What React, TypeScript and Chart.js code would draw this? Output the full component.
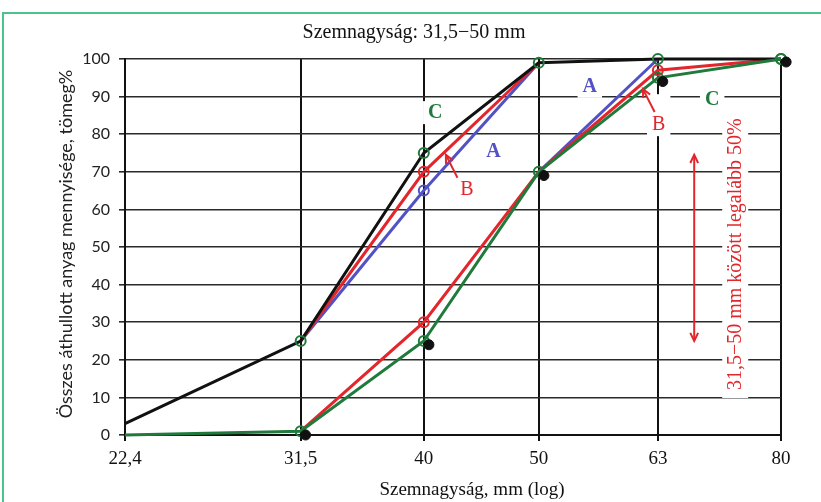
import { useEffect, useRef } from "react";
import { Chart, registerables } from "chart.js";

Chart.register(...registerables);

// ---- data ----
const xTickValues = [22.4, 31.5, 40, 50, 63, 80];
const yTickValues = [0, 10, 20, 30, 40, 50, 60, 70, 80, 90, 100];

const upperCSizes = [22.4, 31.5, 40, 50, 63, 80];
const upperCValues = [3, 25, 75, 99, 100, 100];

const upperBSizes = [31.5, 40, 50];
const upperBValues = [25, 70, 99];

const upperASizes = [31.5, 40, 50];
const upperAValues = [25, 65, 99];

const lowerCSizes = [22.4, 31.5, 40, 50, 63, 80];
const lowerCValues = [0, 1, 25, 70, 95, 100];

const lowerBSizes = [31.5, 40, 50, 63, 80];
const lowerBValues = [1, 30, 70, 97, 100];

const lowerASizes = [50, 63];
const lowerAValues = [70, 100];

const dotSizes = [31.8, 40.4, 50.5, 63.6, 80.8];
const dotValues = [0, 24, 69, 94, 99.2];

const TITLE = "Szemnagyság: 31,5−50 mm";
const X_TITLE = "Szemnagyság, mm (log)";
const Y_TITLE = "Összes áthullott anyag mennyisége, tömeg%";
const RANGE_NOTE = "31,5−50 mm között legalább 50%";

const GREEN = "#1f7a3c";
const RED = "#e3262c";
const BLUE = "#5252c4";
const BLACK = "#111111";

const pts = (xs: number[], ys: number[]) => xs.map((x, i) => ({ x, y: ys[i] }));

// annotation labels (data coordinates)
const labels = [
  { text: "C", x: 40.9, y: 85.6, color: GREEN, bold: true, padTop: 3 },
  { text: "A", x: 45.8, y: 75.3, color: BLUE, bold: true, padTop: 3 },
  { text: "B", x: 43.5, y: 65.2, color: RED, bold: false, padTop: 3 },
  { text: "A", x: 55.2, y: 92.6, color: BLUE, bold: true, padTop: 3 },
  { text: "B", x: 63.1, y: 82.4, color: RED, bold: false, padTop: 22 },
  { text: "C", x: 70, y: 89.1, color: GREEN, bold: true, padTop: 3 },
];

const arrows = [
  { x1: 42.7, y1: 68.4, x2: 41.75, y2: 74.5, both: false },
  { x1: 62.6, y1: 85.9, x2: 61.2, y2: 92, both: false },
  { x1: 67.6, y1: 25, x2: 67.6, y2: 74.5, both: true },
];

const noteAt = { x: 73.2, y: 48.1 };

function head(ctx: CanvasRenderingContext2D, x1: number, y1: number, x2: number, y2: number, size: number) {
  const a = Math.atan2(y2 - y1, x2 - x1);
  ctx.beginPath();
  ctx.moveTo(x2 - size * Math.cos(a - 0.45), y2 - size * Math.sin(a - 0.45));
  ctx.lineTo(x2, y2);
  ctx.lineTo(x2 - size * Math.cos(a + 0.45), y2 - size * Math.sin(a + 0.45));
  ctx.stroke();
}

const annotPlugin = {
  id: "annots",
  beforeDatasetsDraw(chart: any) {
    const { ctx, scales } = chart;
    const xs = scales.x, ys = scales.y;
    ctx.save();
    ctx.fillStyle = "#ffffff";
    for (const l of labels) {
      ctx.font = `${l.bold ? "bold " : ""}20px "Liberation Serif"`;
      const w = ctx.measureText(l.text).width;
      const px = xs.getPixelForValue(l.x), py = ys.getPixelForValue(l.y);
      ctx.fillRect(px - w / 2 - 5, py - 9 - l.padTop, w + 10, 20 + l.padTop);
    }
    ctx.font = `20px "Liberation Serif"`;
    const tw = ctx.measureText(RANGE_NOTE).width;
    const nx = xs.getPixelForValue(noteAt.x), ny = ys.getPixelForValue(noteAt.y);
    ctx.fillRect(nx - 13, ny - tw / 2 - 8, 26, tw + 16);
    ctx.restore();
  },
  afterDatasetsDraw(chart: any) {
    const { ctx, scales } = chart;
    const xs = scales.x, ys = scales.y;
    ctx.save();
    ctx.textAlign = "center";
    ctx.textBaseline = "middle";
    for (const l of labels) {
      ctx.font = `${l.bold ? "bold " : ""}20px "Liberation Serif"`;
      ctx.fillStyle = l.color;
      ctx.fillText(l.text, xs.getPixelForValue(l.x), ys.getPixelForValue(l.y));
    }
    ctx.strokeStyle = RED;
    ctx.lineWidth = 2;
    for (const a of arrows) {
      const x1 = xs.getPixelForValue(a.x1), y1 = ys.getPixelForValue(a.y1);
      const x2 = xs.getPixelForValue(a.x2), y2 = ys.getPixelForValue(a.y2);
      ctx.beginPath();
      ctx.moveTo(x1, y1);
      ctx.lineTo(x2, y2);
      ctx.stroke();
      head(ctx, x1, y1, x2, y2, 9);
      if (a.both) head(ctx, x2, y2, x1, y1, 9);
    }
    const nx = xs.getPixelForValue(noteAt.x), ny = ys.getPixelForValue(noteAt.y);
    ctx.translate(nx, ny);
    ctx.rotate(-Math.PI / 2);
    ctx.font = `20px "Liberation Serif"`;
    ctx.fillStyle = RED;
    ctx.fillText(RANGE_NOTE, 0, 1);
    ctx.restore();
  },
  afterDraw(chart: any) {
    const { ctx } = chart;
    ctx.save();
    ctx.fillStyle = "#111";
    ctx.textAlign = "center";
    ctx.textBaseline = "middle";
    ctx.font = `20px "Liberation Serif"`;
    ctx.fillText(TITLE, 414, 33);
    ctx.font = `19px "Liberation Serif"`;
    ctx.fillText(X_TITLE, 472, 490);
    ctx.translate(66, 244);
    ctx.rotate(-Math.PI / 2);
    ctx.font = `18px Lato`;
    ctx.fillStyle = "#222";
    ctx.fillText(Y_TITLE, 0, 0);
    ctx.restore();
  },
};

export default function App() {
  const ref = useRef<HTMLCanvasElement | null>(null);
  useEffect(() => {
    if (!ref.current) return;
    const line = (data: any, color: string, pointColors: string[], radii: number[]) => ({
      type: "line",
      data,
      borderColor: color,
      borderWidth: 3,
      pointRadius: radii,
      pointHoverRadius: radii,
      pointBorderColor: pointColors,
      pointBackgroundColor: "rgba(0,0,0,0)",
      pointBorderWidth: 2,
      tension: 0,
      clip: false,
    });
    const chart = new Chart(ref.current, {
      type: "line",
      data: {
        datasets: [
          {
            type: "scatter",
            data: pts(dotSizes, dotValues),
            pointRadius: 5,
            pointBackgroundColor: BLACK,
            pointBorderColor: BLACK,
            showLine: false,
            clip: false,
          } as any,
          line(pts(lowerCSizes, lowerCValues), GREEN, Array(6).fill(GREEN), [0, 5, 5, 5, 5, 5]),
          line(pts(upperCSizes, upperCValues), BLACK, Array(6).fill(GREEN), [0, 5, 5, 5, 5, 5]),
          line(pts(lowerBSizes, lowerBValues), RED, Array(5).fill(RED), [0, 5, 0, 5, 0]),
          line(pts(upperBSizes, upperBValues), RED, Array(3).fill(RED), [0, 5, 0]),
          line(pts(lowerASizes, lowerAValues), BLUE, Array(2).fill(BLUE), [0, 0]),
          line(pts(upperASizes, upperAValues), BLUE, Array(3).fill(BLUE), [0, 5, 0]),
        ] as any,
      },
      options: {
        animation: false,
        responsive: false,
        devicePixelRatio: 1,
        layout: { padding: { left: 0, right: 40, top: 59, bottom: 0 } },
        plugins: { legend: { display: false }, tooltip: { enabled: false }, title: { display: false } },
        scales: {
          x: {
            type: "logarithmic",
            min: 22.4,
            max: 80,
            afterBuildTicks: (s: any) => {
              s.ticks = xTickValues.map((v) => ({ value: v }));
            },
            afterFit: (s: any) => {
              s.height = 67;
            },
            ticks: {
              autoSkip: false,
              maxRotation: 0,
              padding: 7,
              color: "#111",
              font: { family: "Liberation Serif", size: 19 },
              callback: (v: any) => String(v).replace(".", ","),
            },
            grid: { color: "#111", lineWidth: 2, tickLength: 6 },
            border: { color: "#111", width: 2 },
          },
          y: {
            min: 0,
            max: 100,
            afterBuildTicks: (s: any) => {
              s.ticks = yTickValues.map((v) => ({ value: v }));
            },
            afterFit: (s: any) => {
              s.width = 125;
            },
            ticks: {
              padding: 9,
              color: "#222",
              font: { family: "Lato", size: 16 },
            },
            grid: { color: "#2a2a2a", lineWidth: 1.6, tickLength: 6 },
            border: { color: "#111", width: 2 },
          },
        },
      } as any,
      plugins: [annotPlugin],
    });
    return () => chart.destroy();
  }, []);
  return (
    <div style={{ position: "absolute", left: 0, top: 0, width: 821, height: 502, background: "#fff", overflow: "hidden" }}>
      <canvas ref={ref} width={821} height={502} style={{ position: "absolute", left: 0, top: 0, width: 821, height: 502 }} />
      <div style={{ position: "absolute", left: 2, top: 12, width: 819, height: 2, background: "#4cc38a" }} />
      <div style={{ position: "absolute", left: 2, top: 12, width: 2, height: 490, background: "#4cc38a" }} />
    </div>
  );
}
